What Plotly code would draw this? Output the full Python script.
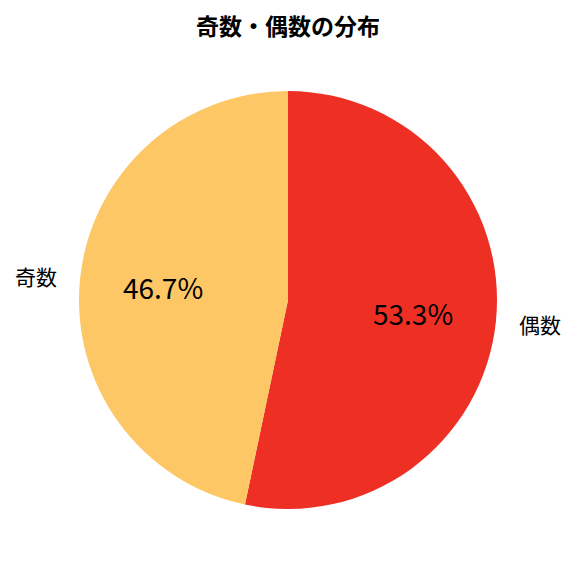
import math
import plotly.graph_objects as go

labels = ["偶数", "奇数"]
values = [53.3, 46.7]
colors = ["#EE3024", "#FDC766"]

W, H = 576, 576
# page body adds an 8px offset, so margins are shifted to compensate
left, right, top, bottom = 0, 16, 83, 75
font = "Noto Sans CJK JP"

fig = go.Figure(
    go.Pie(
        labels=labels,
        values=values,
        marker=dict(colors=colors),
        sort=False,
        direction="clockwise",
        rotation=0,
        textinfo="none",
        hoverinfo="label+percent",
        showlegend=False,
    )
)

# labels at 1.1r and percentages at 0.6r, like matplotlib's autopct
pw = W - left - right
ph = H - top - bottom
r = min(pw, ph) / 2
cx, cy = left + pw / 2, top + ph / 2
total = sum(values)
start = 90.0
annotations = []
for lab, v in zip(labels, values):
    span = v / total * 360
    mid = math.radians(start - span / 2)
    start -= span
    c, s = math.cos(mid), math.sin(mid)
    lx, ly = cx + 1.1 * r * c, cy - 1.1 * r * s
    annotations.append(dict(
        x=(lx - left) / pw, y=(H - bottom - ly) / ph, xref="paper", yref="paper",
        text=lab, showarrow=False, font=dict(family=font, size=21, color="black"),
        xanchor="left" if c > 0 else "right", yanchor="middle",
    ))
    tx, ty = cx + 0.6 * r * c, cy - 0.6 * r * s
    annotations.append(dict(
        x=(tx - left) / pw, y=(H - bottom - ty) / ph, xref="paper", yref="paper",
        text=f"{v / total * 100:.1f}%", showarrow=False,
        font=dict(family=font, size=28, color="black"),
        xanchor="center", yanchor="middle",
    ))

fig.update_layout(
    width=W,
    height=H,
    margin=dict(l=left, r=right, t=top, b=bottom),
    paper_bgcolor="white",
    title=dict(
        text="<b>奇数・偶数の分布</b>",
        x=(288 - 8) / W, xanchor="center", y=1 - 19 / H, yanchor="middle",
        font=dict(family=font, size=23, color="black"),
    ),
    annotations=annotations,
)

fig.write_html("out.html")
